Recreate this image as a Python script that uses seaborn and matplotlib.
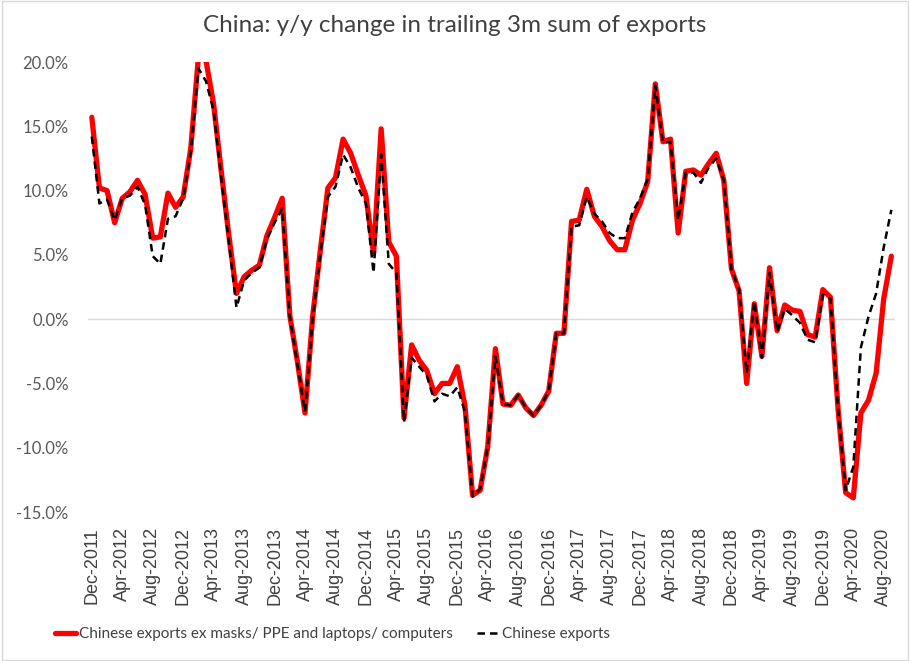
#China exports y/y - trailing 3m sum

import numpy as np
import pandas as pd
import matplotlib
matplotlib.use("Agg")
import matplotlib.pyplot as plt
import seaborn as sns

#Data (% y/y)
months = pd.date_range("2011-12-01", periods=106, freq="MS").strftime("%b-%Y").tolist()

ex_ppe = [15.7, 10.2, 10.0, 7.5, 9.4, 9.9, 10.8, 9.7, 6.3, 6.4,
          9.8, 8.7, 9.5, 13.3, 20.4, 20.1, 16.7, 11.5, 6.5, 2.0,
          3.3, 3.8, 4.2, 6.5, 7.9, 9.4, 0.3, -3.3, -7.3, 0.2,
          5.3, 10.2, 11.0, 14.0, 12.9, 11.2, 9.6, 5.1, 14.8, 6.0,
          4.9, -7.7, -2.0, -3.2, -4.0, -5.8, -5.0, -5.0, -3.7, -6.7,
          -13.7, -13.3, -9.9, -2.3, -6.6, -6.7, -5.9, -6.9, -7.5, -6.7,
          -5.6, -1.1, -1.1, 7.6, 7.7, 10.1, 8.0, 7.2, 6.1, 5.4,
          5.4, 7.7, 9.0, 10.7, 18.3, 13.8, 14.0, 6.7, 11.5, 11.6,
          11.2, 12.1, 12.9, 10.8, 3.9, 2.2, -5.0, 1.2, -2.9, 4.0,
          -0.9, 1.1, 0.7, 0.6, -1.2, -1.4, 2.3, 1.7, -7.0, -13.5,
          -13.9, -7.3, -6.3, -4.2, 1.6, 4.9]

total = [14.2, 9.0, 9.3, 7.7, 9.4, 9.6, 10.3, 8.9, 4.9, 4.3,
         7.8, 8.0, 9.4, 13.0, 19.5, 18.5, 16.2, 11.0, 6.0, 0.9,
         3.0, 3.6, 4.0, 6.2, 7.5, 8.6, 0.2, -3.5, -7.2, 0.0,
         5.0, 9.5, 10.3, 12.8, 11.8, 10.2, 9.0, 3.6, 12.8, 4.3,
         3.6, -8.0, -3.0, -3.7, -4.4, -6.4, -5.8, -6.0, -5.3, -7.2,
         -13.8, -13.2, -9.9, -2.9, -6.6, -6.7, -5.9, -6.9, -7.5, -6.7,
         -5.6, -1.1, -1.1, 7.2, 7.3, 9.5, 8.2, 7.6, 6.7, 6.3,
         6.3, 8.3, 9.4, 10.9, 18.2, 13.7, 13.8, 7.7, 11.4, 11.4,
         10.6, 11.8, 12.5, 10.8, 3.9, 2.3, -4.2, 1.4, -3.0, 3.6,
         -1.0, 0.8, 0.3, -0.3, -1.6, -1.8, 1.9, 1.6, -7.0, -13.3,
         -11.5, -2.2, 0.2, 2.0, 5.6, 8.5]

df = pd.DataFrame({"month": months, "idx": np.arange(len(months)),
                   "ex_ppe": ex_ppe, "total": total})

sns.set_style("white")
plt.rcParams["font.family"] = ["Lato", "DejaVu Sans"]

fig = plt.figure(figsize=(9.1, 6.61), dpi=100)
ax = fig.add_axes([0.0967, 0.2254, 0.887, 0.6808])

ax.axhline(0, color="#d9d9d9", lw=1, zorder=1)

sns.lineplot(data=df, x="idx", y="ex_ppe", ax=ax, color="#ff0000", lw=3.8,
             label="Chinese exports ex masks/ PPE and laptops/ computers", zorder=2)
sns.lineplot(data=df, x="idx", y="total", ax=ax, color="black", lw=1.8,
             linestyle=(0, (3, 2)), label="Chinese exports", zorder=3)

ax.set_xlim(-0.5, len(months) - 0.5)
ax.set_ylim(-15, 20)

ax.set_yticks(np.arange(-15, 21, 5))
ax.set_yticklabels([f"{v:.1f}%" for v in np.arange(-15, 21, 5)], fontsize=12, color="#595959")
ax.set_xticks(df["idx"][::4])
ax.set_xticklabels(df["month"][::4], rotation=90, fontsize=13, color="#404040",
                   family="Liberation Sans")
ax.tick_params(axis="y", length=0, pad=14)
ax.tick_params(axis="x", length=0, pad=11)

ax.set_xlabel("")
ax.set_ylabel("")
for s in ax.spines.values():
    s.set_visible(False)

fig.suptitle("China: y/y change in trailing 3m sum of exports", fontsize=17.5,
             color="#404040", y=0.962, va="center")

ax.get_legend().remove()
h, l = ax.get_legend_handles_labels()
fig.legend(h, l, loc="center left", bbox_to_anchor=(0.045, 0.041), ncol=2, frameon=False,
           fontsize=11, handlelength=1.4, handletextpad=0.2, columnspacing=1.6,
           labelcolor="#404040")

#light border round the chart area
fig.patches.append(plt.Rectangle((0.002, 0.002), 0.996, 0.996, transform=fig.transFigure,
                                 fill=False, edgecolor="#d9d9d9", lw=1))

plt.savefig("out.png", dpi=100)
